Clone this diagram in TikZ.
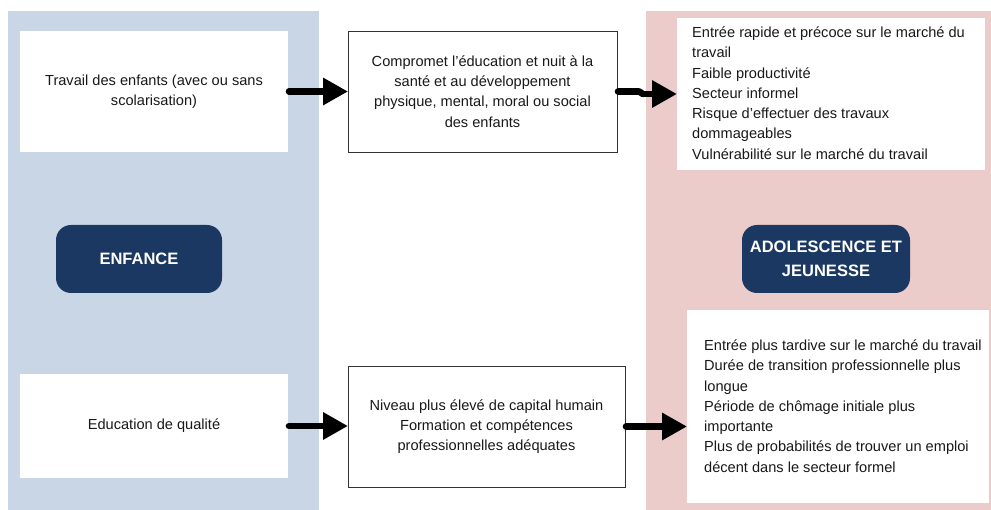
\documentclass[tikz,border=0pt]{standalone}
\usepackage{fontspec}
\setmainfont{Liberation Sans}
\usetikzlibrary{arrows.meta,calc}
\definecolor{panelblue}{HTML}{C9D6E5}
\definecolor{panelpink}{HTML}{ECCBCB}
\definecolor{navy}{HTML}{1B3862}
\begin{document}
\begin{tikzpicture}[x=1pt,y=-1pt,
  txt/.style={font=\fontsize{14.6}{20.3}\selectfont, text=black!90},
  wbox/.style={fill=white, inner sep=0pt, outer sep=0pt, txt, align=center},
  mbox/.style={fill=white, draw=black!80, line width=0.8pt, inner sep=0pt, outer sep=0pt, txt, align=center},
  tag/.style={fill=navy, rounded corners=15pt, inner sep=0pt, outer sep=0pt, text=white,
    font=\bfseries\fontsize{16.5}{24}\selectfont, align=center},
  shaft/.style={line width=6.6pt, line cap=round, line join=round},
  bigarrow/.style={shaft, -{Triangle[length=25pt,width=26pt]}}]
\useasboundingbox (0,0) rectangle (991,510);
% panels
\fill[panelblue] (8,11) rectangle (319,510);
\fill[panelpink] (646,11) rectangle (991,510);
% left column
\node[wbox, minimum width=268pt, minimum height=121pt] (l1) at (154,91.5)
  {Travail des enfants (avec ou sans\\scolarisation)};
\node[wbox, minimum width=268pt, minimum height=104pt] (l2) at (154,426)
  {Education de qualité};
\node[tag, minimum width=166pt, minimum height=68pt] (enf) at (139,259) {ENFANCE};
% middle column
\node[mbox, minimum width=269pt, minimum height=121pt] (m1) at (482.5,91.5)
  {Compromet l’éducation et nuit à la\\santé et au développement\\physique, mental, moral ou social\\des enfants};
\node[mbox, minimum width=277pt, minimum height=121pt] (m2) at (486.5,426.5)
  {Niveau plus élevé de capital humain\\Formation et compétences\\professionnelles adéquates};
% right column
\node[wbox, minimum width=308pt, minimum height=152pt] (r1) at (831,94) {};
\node[txt, anchor=west, align=left, inner sep=0pt] (r1t) at (692,93)
  {Entrée rapide et précoce sur le marché du\\travail\\Faible productivité\\Secteur informel\\Risque d’effectuer des travaux\\dommageables\\Vulnérabilité sur le marché du travail};
\node[wbox, minimum width=302pt, minimum height=193pt] (r2) at (838,406.5) {};
\node[txt, anchor=west, align=left, inner sep=0pt] (r2t) at (704,406)
  {Entrée plus tardive sur le marché du travail\\Durée de transition professionnelle plus\\longue\\Période de chômage initiale plus\\importante\\Plus de probabilités de trouver un emploi\\décent dans le secteur formel};
\node[tag, minimum width=168pt, minimum height=68pt] (ado) at (826,259) {ADOLESCENCE ET\\JEUNESSE};
% arrows
\draw[bigarrow] ([xshift=1pt]l1.east) -- (m1.west);
\draw[bigarrow] ([xshift=1pt]l2.east) -- (l2.east -| m2.west);
\coordinate (kink) at ([xshift=-34pt]r1.west);
\draw[shaft] ([xshift=1pt]m1.east) -- ++(21,0) -- (kink);
\draw[bigarrow] (kink) -- (r1.west);
\draw[bigarrow] ([xshift=1pt]m2.east) -- (m2.east -| r2.west);
\end{tikzpicture}
\end{document}
